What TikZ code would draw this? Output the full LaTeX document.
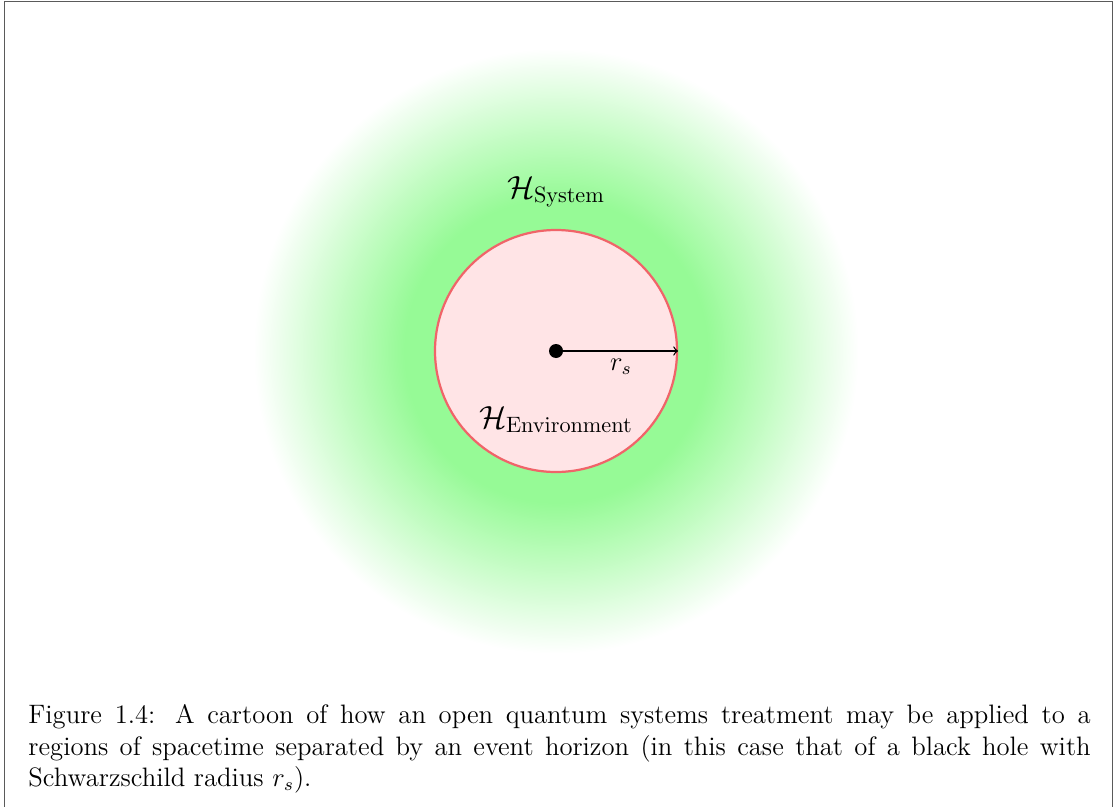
\documentclass[tikz,border=0pt]{standalone}
\usepackage{tikz}
\definecolor{horizonfill}{RGB}{255,228,230}
\definecolor{horizonline}{RGB}{240,100,105}
\definecolor{framegray}{RGB}{90,90,90}
\pgfdeclareradialshading{glowshade}{\pgfpoint{0bp}{0bp}}{rgb(0bp)=(0.59,0.98,0.59); rgb(12.5bp)=(0.59,0.98,0.59); rgb(18bp)=(0.77,0.99,0.77); rgb(24.8bp)=(1,1,1); rgb(50bp)=(1,1,1)}
\tikzset{
  bigmath/.style={font=\fontsize{14.4}{17}\selectfont, inner sep=0pt},
  smallmath/.style={font=\fontsize{12}{14.2}\selectfont, inner sep=0pt},
  horizon/.style={circle, draw=horizonline, fill=horizonfill, line width=1pt, minimum size=108.9pt, inner sep=0pt},
  singularity/.style={circle, fill=black, inner sep=0pt, minimum size=6.3pt},
  radiusarrow/.style={->, line width=0.6pt},
}
\begin{document}
\begin{tikzpicture}[x=0.45pt,y=0.45pt]
\useasboundingbox (0,0) rectangle (1116,-807);
% frame
\draw[framegray, line width=0.8pt] (4.5,-1.5) rectangle (1112.5,-812);
% glow
\shade[shading=glowshade] (556,-351) circle (305);
% horizon
\node[horizon] (hz) at (556,-351) {};
\node[singularity] (bh) at (556,-351) {};
\draw[radiusarrow] (bh.center) -- (hz.east);
\node[smallmath, anchor=base] (rs) at (621,-370) {$r_s$};
\node[bigmath, anchor=base] (sys) at (556,-198) {$\mathcal{H}_{\mathrm{System}}$};
\node[bigmath, anchor=base] (env) at (556,-428) {$\mathcal{H}_{\mathrm{Environment}}$};
% caption
\node[anchor=north west, inner sep=0pt] (cap) at (28,-704) {\parbox[t]{478pt}{\fontsize{12}{14.2}\selectfont Figure 1.4: A cartoon of how an open quantum systems treatment may be applied to a\linebreak regions of spacetime separated by an event horizon (in this case that of a black hole with\linebreak Schwarzschild radius $r_s$).}};
\end{tikzpicture}
\end{document}
